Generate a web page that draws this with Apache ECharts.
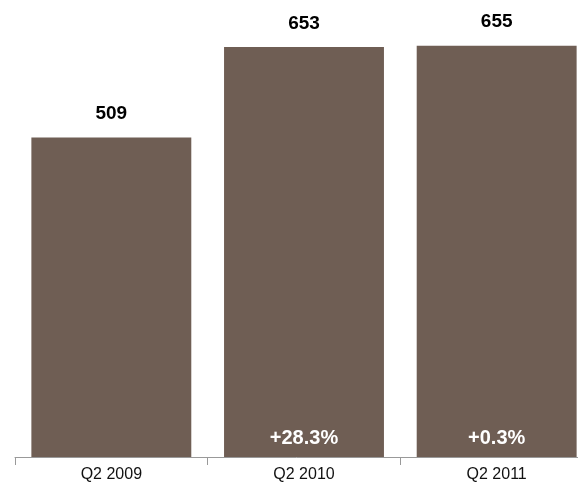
<!DOCTYPE html>
<html>
<head>
<meta charset="UTF-8">
<script src="https://cdn.jsdelivr.net/npm/echarts@6/dist/echarts.min.js"></script>
<style>html,body{margin:0;padding:0;background:#fff}#chart{width:578px;height:490px}</style>
</head>
<body>
<div id="chart"></div>
<script>
var categories = ['Q2 2009', 'Q2 2010', 'Q2 2011'];
var values = [509, 653, 655];
var changes = ['', '+28.3%', '+0.3%'];

var chart = echarts.init(document.getElementById('chart'));
chart.setOption({
  animation: false,
  grid: { left: 15, top: 17.5, width: 578, height: 439.5, outerBoundsMode: 'none', containLabel: false },
  xAxis: {
    type: 'category',
    data: categories,
    axisLine: { lineStyle: { color: '#999', width: 1 } },
    axisTick: { show: true, length: 8, lineStyle: { color: '#999' } },
    axisLabel: { color: '#111', fontSize: 16, fontFamily: 'Liberation Sans, Arial', margin: 10 }
  },
  yAxis: { type: 'value', min: 0, max: 700, show: false, splitLine: { show: false } },
  series: [
    {
      type: 'bar',
      data: values,
      barWidth: '83%',
      itemStyle: { color: '#6f5e54' },
      label: {
        show: true, position: 'top', distance: 14,
        fontSize: 19, fontWeight: 'bold', color: '#000', fontFamily: 'Liberation Sans, Arial'
      }
    },
    {
      type: 'bar',
      data: values,
      barWidth: '83%',
      barGap: '-100%',
      itemStyle: { color: 'transparent' },
      label: {
        show: true, position: 'insideBottom', distance: 9,
        formatter: function (p) { return changes[p.dataIndex]; },
        fontSize: 20, fontWeight: 'bold', color: '#fff', fontFamily: 'Liberation Sans, Arial'
      }
    }
  ]
});
</script>
</body>
</html>
